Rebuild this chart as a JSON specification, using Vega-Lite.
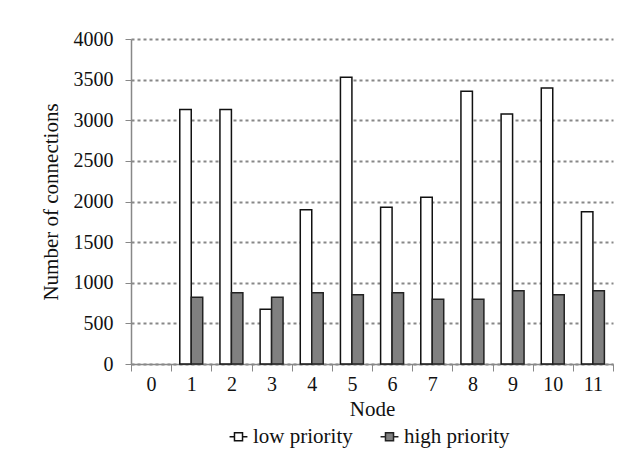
{
  "$schema": "https://vega.github.io/schema/vega-lite/v6.json",
  "width": 482,
  "height": 325,
  "autosize": {"type": "none"},
  "padding": {"left": 131, "top": 39, "right": 24, "bottom": 109},
  "background": "white",
  "data": {
    "values": [
      {"node": "1", "priority": "low priority", "value": 3131},
      {"node": "1", "priority": "high priority", "value": 822},
      {"node": "2", "priority": "low priority", "value": 3131},
      {"node": "2", "priority": "high priority", "value": 876},
      {"node": "3", "priority": "low priority", "value": 674},
      {"node": "3", "priority": "high priority", "value": 822},
      {"node": "4", "priority": "low priority", "value": 1898},
      {"node": "4", "priority": "high priority", "value": 876},
      {"node": "5", "priority": "low priority", "value": 3529},
      {"node": "5", "priority": "high priority", "value": 851},
      {"node": "6", "priority": "low priority", "value": 1930},
      {"node": "6", "priority": "high priority", "value": 876},
      {"node": "7", "priority": "low priority", "value": 2053},
      {"node": "7", "priority": "high priority", "value": 798},
      {"node": "8", "priority": "low priority", "value": 3357},
      {"node": "8", "priority": "high priority", "value": 798},
      {"node": "9", "priority": "low priority", "value": 3078},
      {"node": "9", "priority": "high priority", "value": 901},
      {"node": "10", "priority": "low priority", "value": 3398},
      {"node": "10", "priority": "high priority", "value": 851},
      {"node": "11", "priority": "low priority", "value": 1873},
      {"node": "11", "priority": "high priority", "value": 901}
    ]
  },
  "mark": {"type": "bar", "strokeWidth": 1.5},
  "encoding": {
    "x": {
      "field": "node",
      "type": "ordinal",
      "sort": null,
      "scale": {"domain": ["0","1","2","3","4","5","6","7","8","9","10","11"], "paddingInner": 0, "paddingOuter": 0},
      "axis": {
        "title": "Node",
        "labelAngle": 0,
        "tickBand": "extent",
        "tickSize": 7,
        "tickColor": "#888888",
        "domainColor": "#888888",
        "domainWidth": 1.5,
        "labelPadding": 3,
        "titlePadding": 4,
        "labelFont": "Liberation Serif",
        "titleFont": "Liberation Serif",
        "labelFontSize": 20,
        "titleFontSize": 21
      }
    },
    "xOffset": {
      "field": "priority",
      "type": "nominal",
      "sort": ["low priority", "high priority"],
      "scale": {"paddingInner": 0, "paddingOuter": 0.75}
    },
    "y": {
      "field": "value",
      "type": "quantitative",
      "scale": {"domain": [0, 4000], "nice": false},
      "axis": {
        "title": "Number of connections",
        "format": "d",
        "values": [0, 500, 1000, 1500, 2000, 2500, 3000, 3500, 4000],
        "grid": true,
        "gridDash": [3, 3],
        "gridColor": "#888888",
        "gridWidth": 2,
        "tickSize": 6,
        "tickColor": "#888888",
        "domainColor": "#888888",
        "domainWidth": 1.5,
        "labelPadding": 12,
        "titlePadding": 12,
        "labelFont": "Liberation Serif",
        "titleFont": "Liberation Serif",
        "labelFontSize": 20,
        "titleFontSize": 21
      }
    },
    "fill": {
      "field": "priority",
      "type": "nominal",
      "sort": ["low priority", "high priority"],
      "scale": {"domain": ["low priority", "high priority"], "range": ["#ffffff", "#808080"]},
      "legend": {
        "title": null,
        "orient": "none",
        "legendX": 97,
        "legendY": 387,
        "direction": "horizontal",
        "symbolType": "M-0.45,-0.45L0.45,-0.45L0.45,0.45L-0.45,0.45Z M-1,0L-0.45,0 M0.45,0L1,0",
        "symbolSize": 320,
        "symbolStrokeWidth": 1.5,
        "symbolStrokeColor": "#111111",
        "labelFont": "Liberation Serif",
        "labelFontSize": 21,
        "labelOffset": 4,
        "columnPadding": 24,
        "encode": {
          "symbols": {
            "update": {
              "shape": {"value": "M-0.45,-0.45L0.45,-0.45L0.45,0.45L-0.45,0.45Z M-1,0L-0.45,0 M0.45,0L1,0"},
              "stroke": {"value": "#111111"},
              "strokeWidth": {"value": 1.5}
            }
          }
        }
      }
    },
    "stroke": {
      "field": "priority",
      "type": "nominal",
      "sort": ["low priority", "high priority"],
      "scale": {"domain": ["low priority", "high priority"], "range": ["#111111", "#222222"]},
      "legend": null
    }
  },
  "config": {
    "font": "Liberation Serif",
    "view": {"stroke": null},
    "axis": {
      "titleFontWeight": "normal",
      "labelColor": "#111111",
      "titleColor": "#111111"
    },
    "legend": {"labelColor": "#111111", "labelFont": "Liberation Serif"}
  }
}
